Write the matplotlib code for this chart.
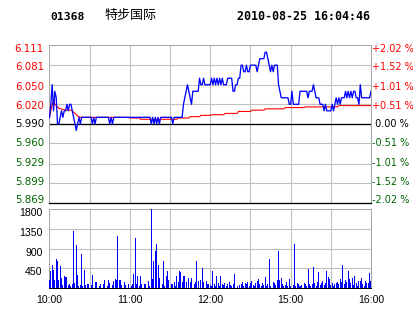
import matplotlib
matplotlib.use("Agg")
import matplotlib.pyplot as plt
import matplotlib.transforms as mtransforms
import numpy as np

# Intraday data, one value per minute of the trading session
# (10:00-12:30 and 14:30-16:00, 240 minutes).
price = [
    6.00, 6.02, 6.05, 6.01, 6.04, 6.03, 5.99, 5.99, 6.00, 6.01,
    6.00, 6.01, 6.01, 6.02, 6.01, 6.02, 6.02, 6.01, 6.00, 5.99,
    5.98, 5.99, 6.00, 5.99, 6.00, 6.00, 6.00, 6.00, 6.00, 6.00,
    6.00, 6.00, 5.99, 6.00, 5.99, 6.00, 6.00, 6.00, 6.00, 6.00,
    6.00, 6.00, 6.00, 6.00, 6.00, 5.99, 6.00, 5.99, 6.00, 6.00,
    6.00, 6.00, 6.00, 6.00, 6.00, 6.00, 6.00, 6.00, 6.00, 6.00,
    6.00, 6.00, 6.00, 6.00, 6.00, 6.00, 6.00, 6.00, 6.00, 6.00,
    6.00, 6.00, 6.00, 6.00, 6.00, 6.00, 5.99, 6.00, 5.99, 6.00,
    5.99, 6.00, 5.99, 6.00, 6.00, 6.00, 6.00, 6.00, 6.00, 6.00,
    6.00, 6.00, 5.99, 6.00, 6.00, 6.00, 6.00, 6.00, 6.00, 6.00,
    6.02, 6.03, 6.04, 6.05, 6.04, 6.03, 6.02, 6.04, 6.04, 6.04,
    6.04, 6.04, 6.06, 6.05, 6.05, 6.06, 6.05, 6.05, 6.05, 6.05,
    6.05, 6.06, 6.05, 6.06, 6.05, 6.06, 6.05, 6.06, 6.05, 6.06,
    6.05, 6.05, 6.05, 6.06, 6.06, 6.06, 6.06, 6.04, 6.04, 6.05,
    6.05, 6.06, 6.06, 6.08, 6.08, 6.07, 6.07, 6.08, 6.07, 6.07,
    6.08, 6.08, 6.08, 6.08, 6.08, 6.07, 6.08, 6.09, 6.09, 6.09,
    6.09, 6.10, 6.10, 6.09, 6.08, 6.07, 6.08, 6.07, 6.08, 6.08,
    6.08, 6.05, 6.04, 6.03, 6.03, 6.03, 6.03, 6.03, 6.03, 6.02,
    6.02, 6.04, 6.02, 6.02, 6.02, 6.02, 6.02, 6.04, 6.04, 6.04,
    6.04, 6.04, 6.04, 6.03, 6.04, 6.04, 6.04, 6.05, 6.04, 6.03,
    6.03, 6.03, 6.02, 6.02, 6.02, 6.01, 6.02, 6.01, 6.01, 6.01,
    6.01, 6.02, 6.01, 6.02, 6.03, 6.02, 6.03, 6.02, 6.03, 6.03,
    6.03, 6.04, 6.03, 6.04, 6.03, 6.04, 6.03, 6.04, 6.04, 6.03,
    6.03, 6.02, 6.05, 6.03, 6.03, 6.03, 6.03, 6.03, 6.03, 6.03,
    6.04,
]

avg_price = (
    [6.000, 6.010, 6.020, 6.025, 6.020, 6.018, 6.016, 6.014, 6.013, 6.013,
     6.012, 6.012, 6.011, 6.011, 6.011, 6.011, 6.011, 6.010, 6.008, 6.006,
     6.004, 6.002, 6.001]
    + [6.000] * 37      # 23-59
    + [5.999] * 8       # 60-67
    + [5.997] * 28      # 68-95
    + [5.999] * 9       # 96-104
    + [6.001] * 8       # 105-112
    + [6.003] * 8       # 113-120
    + [6.004] * 10      # 121-130
    + [6.006] * 10      # 131-140
    + [6.009] * 10      # 141-150
    + [6.011] * 10      # 151-160
    + [6.013] * 15      # 161-175
    + [6.015] * 15      # 176-190
    + [6.016] * 25      # 191-215
    + [6.018] * 25      # 216-240
)

volume = [
    190, 400, 530, 420, 190, 670, 610, 190, 510, 230,
    80, 290, 260, 250, 80, 90, 50, 100, 1290, 120,
    990, 300, 50, 80, 780, 50, 420, 80, 90, 90,
    0, 80, 300, 0, 140, 140, 0, 60, 90, 0,
    90, 190, 0, 60, 180, 110, 0, 70, 170, 210,
    190, 1190, 180, 190, 80, 0, 140, 80, 0, 90,
    0, 60, 100, 330, 1140, 90, 290, 60, 290, 100,
    0, 100, 90, 0, 170, 60, 1800, 210, 620, 850,
    1000, 530, 240, 0, 100, 620, 60, 270, 400, 180,
    0, 100, 90, 150, 60, 270, 150, 400, 360, 140,
    290, 270, 150, 0, 240, 140, 240, 0, 100, 140,
    610, 170, 0, 190, 470, 140, 0, 170, 90, 90,
    80, 60, 390, 90, 60, 290, 120, 60, 270, 100,
    80, 130, 60, 90, 140, 80, 60, 90, 330, 0,
    60, 0, 80, 100, 150, 60, 120, 90, 150, 60,
    110, 160, 80, 60, 120, 170, 200, 90, 60, 110,
    80, 260, 60, 100, 660, 60, 0, 150, 130, 80,
    190, 850, 180, 230, 100, 60, 80, 150, 60, 220,
    60, 0, 80, 1010, 60, 120, 100, 60, 80, 0,
    120, 90, 60, 430, 90, 60, 100, 480, 120, 60,
    150, 370, 80, 120, 160, 80, 130, 390, 260, 200,
    80, 120, 60, 90, 110, 140, 100, 220, 150, 530,
    100, 180, 150, 400, 200, 120, 230, 80, 270, 110,
    60, 170, 160, 240, 100, 60, 170, 120, 130, 350,
    160,
]

prev_close = 5.990
price_ticks = [5.869, 5.899, 5.929, 5.960, 5.990, 6.020, 6.050, 6.081, 6.111]
price_labels = ["5.869", "5.899", "5.929", "5.960", "5.990",
                "6.020", "6.050", "6.081", "6.111"]
pct_labels = ["-2.02 %", "-1.52 %", "-1.01 %", "-0.51 %", " 0.00 %",
              "+0.51 %", "+1.01 %", "+1.52 %", "+2.02 %"]
vol_ticks = [450, 900, 1350, 1800]
time_ticks = [0, 60, 120, 180, 240]
time_labels = ["10:00", "11:00", "12:00", "15:00", "16:00"]

RED = "#ff0000"
GREEN = "#006400"
GRID = "#c0c0c0"
FRAME = "#a8a8a8"
PX = 0.72  # one pixel in points at dpi 100

W, H = 414, 314
fig = plt.figure(figsize=(W / 100, H / 100), dpi=100)
fig.patch.set_facecolor("white")


def label_color(i):
    if price_ticks[i] > prev_close:
        return RED
    if price_ticks[i] < prev_close:
        return GREEN
    return "black"


def shift(px_down):
    return mtransforms.ScaledTranslation(0, -px_down / 100, fig.dpi_scale_trans)


# the price labels sit a little inside their grid lines: top ones lower,
# bottom ones higher
def price_label_shift(i):
    return shift(-3.4 + i * 6.1 / 8)


left, right = 49.5, 371
ax = fig.add_axes([left / W, (H - 202.7) / H, (right - left) / W, (202.7 - 45) / H])
minutes = np.arange(len(price))
ax.plot(minutes, avg_price, color=RED, lw=1.1 * PX, zorder=3)
ax.plot(minutes, price, color="#0000ff", lw=1.3 * PX, zorder=4)
ax.axhline(prev_close, color="black", lw=1.3 * PX, zorder=2)
ax.set_xlim(0, 240)
ax.set_ylim(price_ticks[0], price_ticks[-1])
ax.set_xticks(np.arange(0, 241, 30))
ax.set_xticklabels([])
ax.set_yticks(price_ticks)
ax.set_yticklabels(price_labels, fontsize=7.4)
ax.grid(True, color=GRID, lw=1.1 * PX, zorder=0)
ax.tick_params(length=0, pad=4)
for i, lab in enumerate(ax.get_yticklabels()):
    lab.set_color(label_color(i))
    lab.set_transform(lab.get_transform() + price_label_shift(i))
for s in ax.spines.values():
    s.set_color(FRAME)
    s.set_linewidth(PX)
ax.spines["bottom"].set_color("black")
ax.spines["bottom"].set_linewidth(1.3 * PX)

ax2 = ax.twinx()
ax2.set_ylim(ax.get_ylim())
ax2.set_yticks(price_ticks)
ax2.set_yticklabels(pct_labels, fontsize=7.0)
ax2.tick_params(length=0, pad=0.5)
for i, lab in enumerate(ax2.get_yticklabels()):
    lab.set_color(label_color(i))
    lab.set_transform(lab.get_transform() + price_label_shift(i))
for s in ax2.spines.values():
    s.set_visible(False)

axv = fig.add_axes([left / W, (H - 288.3) / H, (right - left) / W, (288.3 - 209) / H])
axv.bar(minutes, volume, width=0.75, color="#0000ff", linewidth=0,
        antialiased=False, zorder=3)
axv.set_xlim(0, 240)
axv.set_ylim(0, 1800)
axv.set_xticks(np.arange(0, 241, 30), minor=True)
axv.set_xticks(time_ticks)
axv.set_xticklabels(time_labels, fontsize=7.6, family="Liberation Sans")
axv.set_yticks(vol_ticks)
axv.set_yticklabels([str(v) for v in vol_ticks], fontsize=7.6, family="Liberation Sans")
axv.grid(True, which="both", color=GRID, lw=1.1 * PX, zorder=0)
axv.tick_params(which="both", length=0)
axv.tick_params(axis="x", pad=5)
axv.tick_params(axis="y", pad=5)
for lab in axv.get_yticklabels():
    lab.set_transform(lab.get_transform() + shift(3))
for s in axv.spines.values():
    s.set_color(FRAME)
    s.set_linewidth(PX)
axv.spines["bottom"].set_color("black")

fig.text(50 / W, 1 - 16.5 / H, "01368", fontsize=8.2, fontweight="bold",
         family="DejaVu Sans Mono", ha="left", va="center")
fig.text(105 / W, 1 - 15.5 / H, "特步国际", fontsize=9.4,
         family=["Noto Sans CJK SC", "DejaVu Sans"], ha="left", va="center")
fig.text(237 / W, 1 - 16.5 / H, "2010-08-25 16:04:46", fontsize=8.4,
         fontweight="bold", family="DejaVu Sans Mono", ha="left", va="center")

fig.savefig("out.png", dpi=100, facecolor="white")
